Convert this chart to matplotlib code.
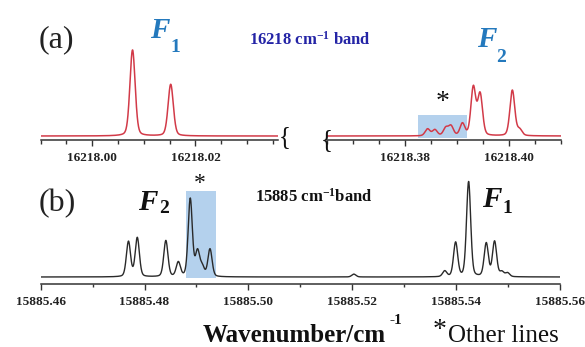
import numpy as np
import matplotlib
matplotlib.use("Agg")
import matplotlib.pyplot as plt
from matplotlib.ticker import MultipleLocator, FormatStrFormatter

# ---------------- data ----------------
# (a) 16218 cm-1 band, left segment
a_left_centers = [16218.0078, 16218.0152]
a_left_heights = [1.00, 0.60]
# (a) right segment
a_right_centers = [16218.3844, 16218.3858, 16218.3879, 16218.3889, 16218.3911,
                   16218.3932, 16218.3945, 16218.4007, 16218.4021]
a_right_heights = [0.08, 0.07, 0.09, 0.11, 0.14, 0.56, 0.48, 0.53, 0.07]
a_left_xlim = (16217.99, 16218.036)
a_right_xlim = (16218.365, 16218.41)
a_shade_x = (16218.3826, 16218.3919)
a_shade_top = 0.245

# (b) 15885 cm-1 band
b_centers = [15885.4769, 15885.4786, 15885.4841, 15885.4865, 15885.4888,
             15885.4902, 15885.4911, 15885.4926, 15885.5203,
             15885.5378, 15885.5399, 15885.5424, 15885.5458, 15885.5474,
             15885.5488, 15885.5499]
b_heights = [0.37, 0.41, 0.38, 0.15, 0.82, 0.26, 0.10, 0.29, 0.03,
             0.06, 0.36, 1.00, 0.35, 0.37, 0.05, 0.04]
b_xlim = (15885.46, 15885.56)
b_shade_x = (15885.4879, 15885.4937)
b_shade_top = 0.91

# ---------------- style ----------------
plt.rcParams['font.family'] = ['Liberation Serif', 'DejaVu Serif']
plt.rcParams['mathtext.fontset'] = 'custom'
plt.rcParams['mathtext.rm'] = 'Liberation Serif:bold'
plt.rcParams['mathtext.bf'] = 'Liberation Serif:bold'
plt.rcParams['mathtext.default'] = 'rm'

W, H = 585, 347
fig = plt.figure(figsize=(W / 100, H / 100), dpi=100)


def rect(x0, x1, ybot, ytop):
    return [x0 / W, 1 - ybot / H, (x1 - x0) / W, (ybot - ytop) / H]


def T(px, py, s, **kw):
    return fig.text(px / W, 1 - py / H, s, **kw)


def spectrum(x, centers, heights, fwhm):
    y = np.zeros_like(x)
    for c, h in zip(centers, heights):
        g = np.exp(-4 * np.log(2) * ((x - c) / fwhm) ** 2)
        l = 1.0 / (1 + 4 * ((x - c) / fwhm) ** 2)
        y += h * (0.75 * g + 0.25 * l)
    return y


def style_axis(ax, major, minor, maj_len, min_len, pad):
    for s in ('top', 'left', 'right'):
        ax.spines[s].set_visible(False)
    ax.spines['bottom'].set_linewidth(1.1)
    ax.spines['bottom'].set_color('#333333')
    ax.set_yticks([])
    ax.xaxis.set_major_locator(MultipleLocator(major))
    ax.xaxis.set_minor_locator(MultipleLocator(minor))
    ax.xaxis.set_major_formatter(FormatStrFormatter('%.2f'))
    ax.tick_params(axis='x', which='major', direction='out', length=maj_len,
                   width=1.0, color='#333333', pad=pad, labelsize=9.5)
    ax.tick_params(axis='x', which='minor', direction='out', length=min_len,
                   width=1.0, color='#333333')
    for lab in ax.get_xticklabels():
        lab.set_fontweight('bold')
        lab.set_color('#222222')
    ax.patch.set_visible(False)


red = '#d23a48'
shade = '#6aa5dc'

# (a) left
a_ylim = (-4 / 86, 96 / 86)
ax1 = fig.add_axes(rect(40.7, 278, 140, 40))
x1 = np.linspace(*a_left_xlim, 1500)
ax1.plot(x1, spectrum(x1, a_left_centers, a_left_heights, 0.0012), color=red, lw=1.1)
ax1.set_xlim(*a_left_xlim)
ax1.set_ylim(*a_ylim)
style_axis(ax1, 0.02, 0.005, 4.0, 3.2, 4.5)

# (a) right
ax2 = fig.add_axes(rect(326.7, 560.7, 140, 40))
x2 = np.linspace(*a_right_xlim, 1500)
ax2.plot(x2, spectrum(x2, a_right_centers, a_right_heights, 0.0011), color=red, lw=1.1)
ax2.axvspan(a_shade_x[0], a_shade_x[1], ymin=(0 - a_ylim[0] - 0.02) / (a_ylim[1] - a_ylim[0]),
            ymax=(a_shade_top - a_ylim[0]) / (a_ylim[1] - a_ylim[0]),
            color=shade, alpha=0.5, lw=0)
ax2.set_xlim(*a_right_xlim)
ax2.set_ylim(*a_ylim)
style_axis(ax2, 0.02, 0.005, 4.0, 3.2, 4.5)

# (b)
b_ylim = (-7 / 95, 97 / 95)
ax3 = fig.add_axes(rect(40.7, 560, 284, 180))
x3 = np.linspace(*b_xlim, 3000)
ax3.plot(x3, spectrum(x3, b_centers, b_heights, 0.00095), color='#2a2a2a', lw=1.0)
ax3.axvspan(b_shade_x[0], b_shade_x[1], ymin=(0 - b_ylim[0] - 0.01) / (b_ylim[1] - b_ylim[0]),
            ymax=(b_shade_top - b_ylim[0]) / (b_ylim[1] - b_ylim[0]),
            color=shade, alpha=0.5, lw=0)
ax3.set_xlim(*b_xlim)
ax3.set_ylim(*b_ylim)
style_axis(ax3, 0.02, 0.01, 4.3, 2.4, 4.0)

# axis break symbols
T(284.5, 137, '{', fontsize=18, ha='center', va='center', color='#111111')
T(326.5, 140, '{', fontsize=18, ha='center', va='center', color='#111111')

# ---------------- text ----------------
blue = '#2479bd'
navy = '#2424a6'
T(39, 47, '(a)', fontsize=23, color='#222222', va='baseline')
T(39, 211, '(b)', fontsize=23, color='#222222', va='baseline')

T(150, 38, 'F', fontsize=21, fontweight='bold', fontstyle='italic', color=blue, va='baseline')
T(170, 52, '1', fontsize=14, fontweight='bold', color=blue, va='baseline')
T(477, 47, 'F', fontsize=21, fontweight='bold', fontstyle='italic', color=blue, va='baseline')
T(496, 62, '2', fontsize=14, fontweight='bold', color=blue, va='baseline')
T(249, 45, r'16218 cm$^{-1}$ band', fontsize=12, fontweight='bold', color=navy, va='baseline')
T(442.5, 109, '*', fontsize=20, color='#111111', ha='center', va='baseline')

T(138, 210, 'F', fontsize=21, fontweight='bold', fontstyle='italic', color='#111111', va='baseline')
T(159, 213, '2', fontsize=14, fontweight='bold', color='#111111', va='baseline')
T(482, 207, 'F', fontsize=21, fontweight='bold', fontstyle='italic', color='#111111', va='baseline')
T(502, 213, '1', fontsize=14, fontweight='bold', color='#111111', va='baseline')
T(255, 202, r'15885 cm$^{-1}$band', fontsize=12, fontweight='bold', color='#111111', va='baseline')
T(200, 189, '*', fontsize=17, color='#111111', ha='center', va='baseline')

T(203, 342, 'Wavenumber/cm', fontsize=18, fontweight='bold', color='#111111', va='baseline')
T(389, 324, '-1', fontsize=11, fontweight='bold', color='#111111', va='baseline')
T(433, 337, '*', fontsize=20, color='#111111', va='baseline')
T(448, 342, 'Other lines', fontsize=18, color='#111111', va='baseline')

fig.savefig('out.png', dpi=100)
